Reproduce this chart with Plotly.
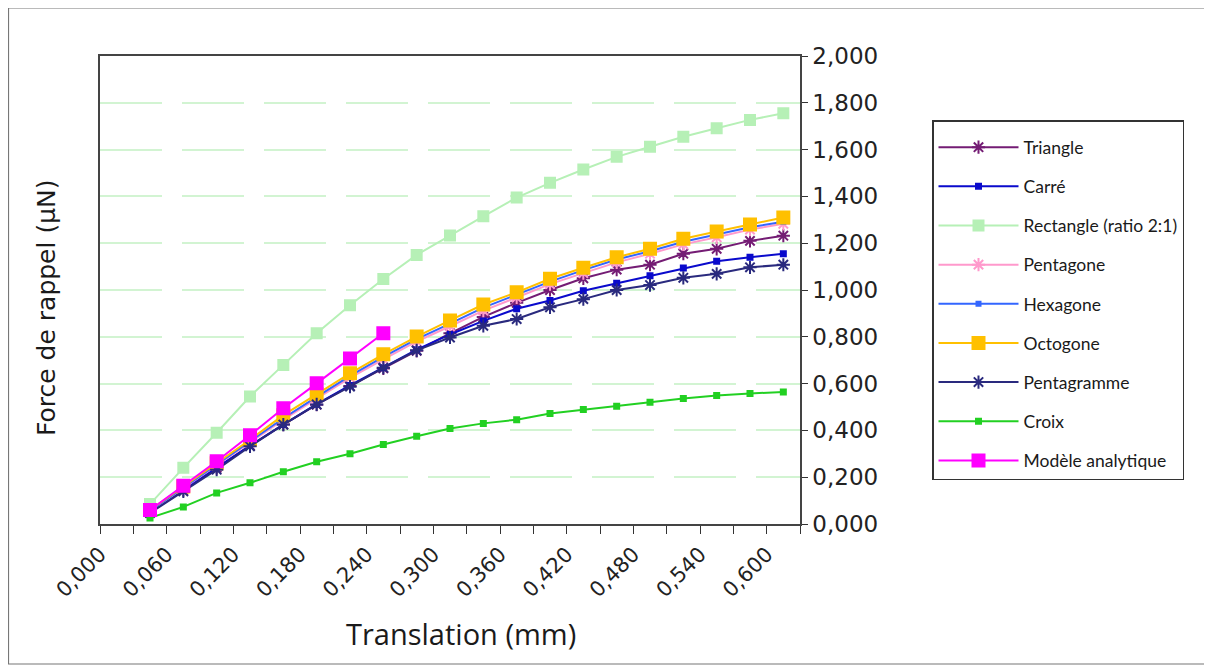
import plotly.graph_objects as go

# ---- data ----
x_mm = [0.045, 0.075, 0.105, 0.135, 0.165, 0.195, 0.225, 0.255, 0.285, 0.315,
        0.345, 0.375, 0.405, 0.435, 0.465, 0.495, 0.525, 0.555, 0.585, 0.615]

triangle = [0.050, 0.145, 0.240, 0.335, 0.425, 0.510, 0.590, 0.665, 0.740, 0.815,
            0.885, 0.945, 1.000, 1.050, 1.087, 1.108, 1.155, 1.176, 1.210, 1.232]
carre = [0.050, 0.145, 0.240, 0.335, 0.425, 0.512, 0.592, 0.668, 0.745, 0.810,
         0.868, 0.920, 0.955, 0.997, 1.029, 1.061, 1.094, 1.123, 1.140, 1.155]
rectangle = [0.085, 0.240, 0.390, 0.545, 0.680, 0.815, 0.935, 1.047, 1.150, 1.233,
             1.315, 1.395, 1.458, 1.515, 1.569, 1.612, 1.655, 1.691, 1.727, 1.755]
pentagone = [0.055, 0.152, 0.250, 0.348, 0.446, 0.536, 0.624, 0.704, 0.780, 0.845,
             0.912, 0.968, 1.025, 1.072, 1.118, 1.155, 1.195, 1.225, 1.258, 1.283]
hexagone = [0.056, 0.155, 0.254, 0.353, 0.452, 0.543, 0.633, 0.714, 0.790, 0.856,
            0.925, 0.980, 1.036, 1.085, 1.130, 1.166, 1.206, 1.237, 1.268, 1.292]
octogone = [0.060, 0.160, 0.260, 0.360, 0.465, 0.554, 0.644, 0.725, 0.801, 0.870,
            0.938, 0.990, 1.048, 1.095, 1.140, 1.176, 1.219, 1.250, 1.280, 1.310]
pentagramme = [0.047, 0.139, 0.232, 0.332, 0.425, 0.511, 0.587, 0.668, 0.742, 0.797,
               0.847, 0.876, 0.926, 0.961, 1.000, 1.021, 1.052, 1.069, 1.097, 1.108]
croix = [0.026, 0.073, 0.133, 0.176, 0.223, 0.266, 0.300, 0.340, 0.375, 0.408,
         0.430, 0.446, 0.472, 0.489, 0.503, 0.520, 0.536, 0.549, 0.558, 0.564]
x_modele = [0.045, 0.075, 0.105, 0.135, 0.165, 0.195, 0.225, 0.255]
modele = [0.060, 0.163, 0.268, 0.379, 0.495, 0.601, 0.707, 0.815]

x_tickvals = [0.0, 0.06, 0.12, 0.18, 0.24, 0.30, 0.36, 0.42, 0.48, 0.54, 0.60]
x_ticktext = ["0,000", "0,060", "0,120", "0,180", "0,240", "0,300", "0,360",
              "0,420", "0,480", "0,540", "0,600"]
y_tickvals = [0.0, 0.2, 0.4, 0.6, 0.8, 1.0, 1.2, 1.4, 1.6, 1.8, 2.0]
y_ticktext = ["0,000", "0,200", "0,400", "0,600", "0,800", "1,000", "1,200",
              "1,400", "1,600", "1,800", "2,000"]

series = [
    ("Triangle", x_mm, triangle, "#741c74", "asterisk-open", 11, 2),
    ("Carré", x_mm, carre, "#0a0acc", "square", 5, 2),
    ("Rectangle (ratio 2:1)", x_mm, rectangle, "#b6f0b6", "square", 10, 2),
    ("Pentagone", x_mm, pentagone, "#ff99cc", "asterisk-open", 11, 2),
    ("Hexagone", x_mm, hexagone, "#3366ff", "square", 4, 2),
    ("Octogone", x_mm, octogone, "#ffc000", "square", 12, 2),
    ("Pentagramme", x_mm, pentagramme, "#2a2a7e", "asterisk-open", 11, 2),
    ("Croix", x_mm, croix, "#22d022", "square", 5, 2),
    ("Modèle analytique", x_modele, modele, "#ff00ff", "square", 12, 2),
]

fig = go.Figure()
for i, (name, xs, ys, col, sym, size, lw) in enumerate(series):
    fig.add_trace(go.Scatter(
        x=xs, y=ys, name=name, mode="lines+markers", legendgroup=f"g{i}",
        line=dict(color=col, width=lw),
        marker=dict(color=col, symbol=sym, size=size,
                    line=dict(color=col, width=2)),
    ))

# page body has an 8px margin: work in page pixels minus 8
OFF = 8
W, H = 1212 - OFF, 670 - OFF
L, R, T, B = 100 - OFF, 800 - OFF, 56 - OFF, 524 - OFF


def px(xp):
    return (xp - OFF - L) / (R - L)


def py(yp):
    return (B - (yp - OFF)) / (B - T)


fig.update_layout(
    width=W, height=H,
    margin=dict(l=L, r=W - R, t=T, b=H - B, autoexpand=False),
    paper_bgcolor="white", plot_bgcolor="white",
    showlegend=True,
    legend=dict(
        xref="container", yref="container",
        x=(932 - OFF) / W, y=1 - (120 - OFF) / H, xanchor="left", yanchor="top",
        bordercolor="#333333", borderwidth=1.5, bgcolor="white",
        font=dict(family="Lato", size=17.5, color="#1a1a1a"),
        title=dict(text=" ", font=dict(size=6)),
        tracegroupgap=13.4, itemwidth=80, maxheight=600,
    ),
    xaxis=dict(
        range=[0, 0.63], tickvals=x_tickvals, ticktext=x_ticktext,
        tickangle=-45, ticks="outside", ticklen=8, tickcolor="#333",
        minor=dict(dtick=0.03, tick0=0, ticks="outside", ticklen=8, tickcolor="#333"),
        showline=True, linecolor="#444", linewidth=1.5, mirror=True,
        showgrid=False, zeroline=False,
        tickfont=dict(family="DejaVu Sans", size=21, color="#222"),
    ),
    yaxis=dict(
        range=[0, 2.0], side="right", tickvals=y_tickvals, ticktext=y_ticktext,
        ticks="outside", ticklen=6, tickcolor="#333",
        showline=True, linecolor="#444", linewidth=1.5, mirror=True,
        showgrid=True, gridcolor="#d2f4d2", gridwidth=2, griddash="62px,20px",
        zeroline=False,
        tickfont=dict(family="DejaVu Sans", size=23, color="#222"),
    ),
    annotations=[
        dict(text="Force de rappel (µN)", xref="paper", yref="paper",
             x=px(46), y=py(308), textangle=-90,
             showarrow=False, xanchor="center", yanchor="middle",
             font=dict(family="DejaVu Sans", size=25, color="#1a1a1a")),
        dict(text="Translation (mm)", xref="paper", yref="paper",
             x=px(461), y=py(633),
             showarrow=False, xanchor="center", yanchor="middle",
             font=dict(family="Open Sans", size=29, color="#1a1a1a")),
    ],
    shapes=[
        dict(type="rect", xref="paper", yref="paper",
             x0=px(8.5), x1=px(1205), y0=py(664), y1=py(8),
             line=dict(color="#777", width=1.2), layer="below"),
    ],
)

fig.write_html("out.html")
